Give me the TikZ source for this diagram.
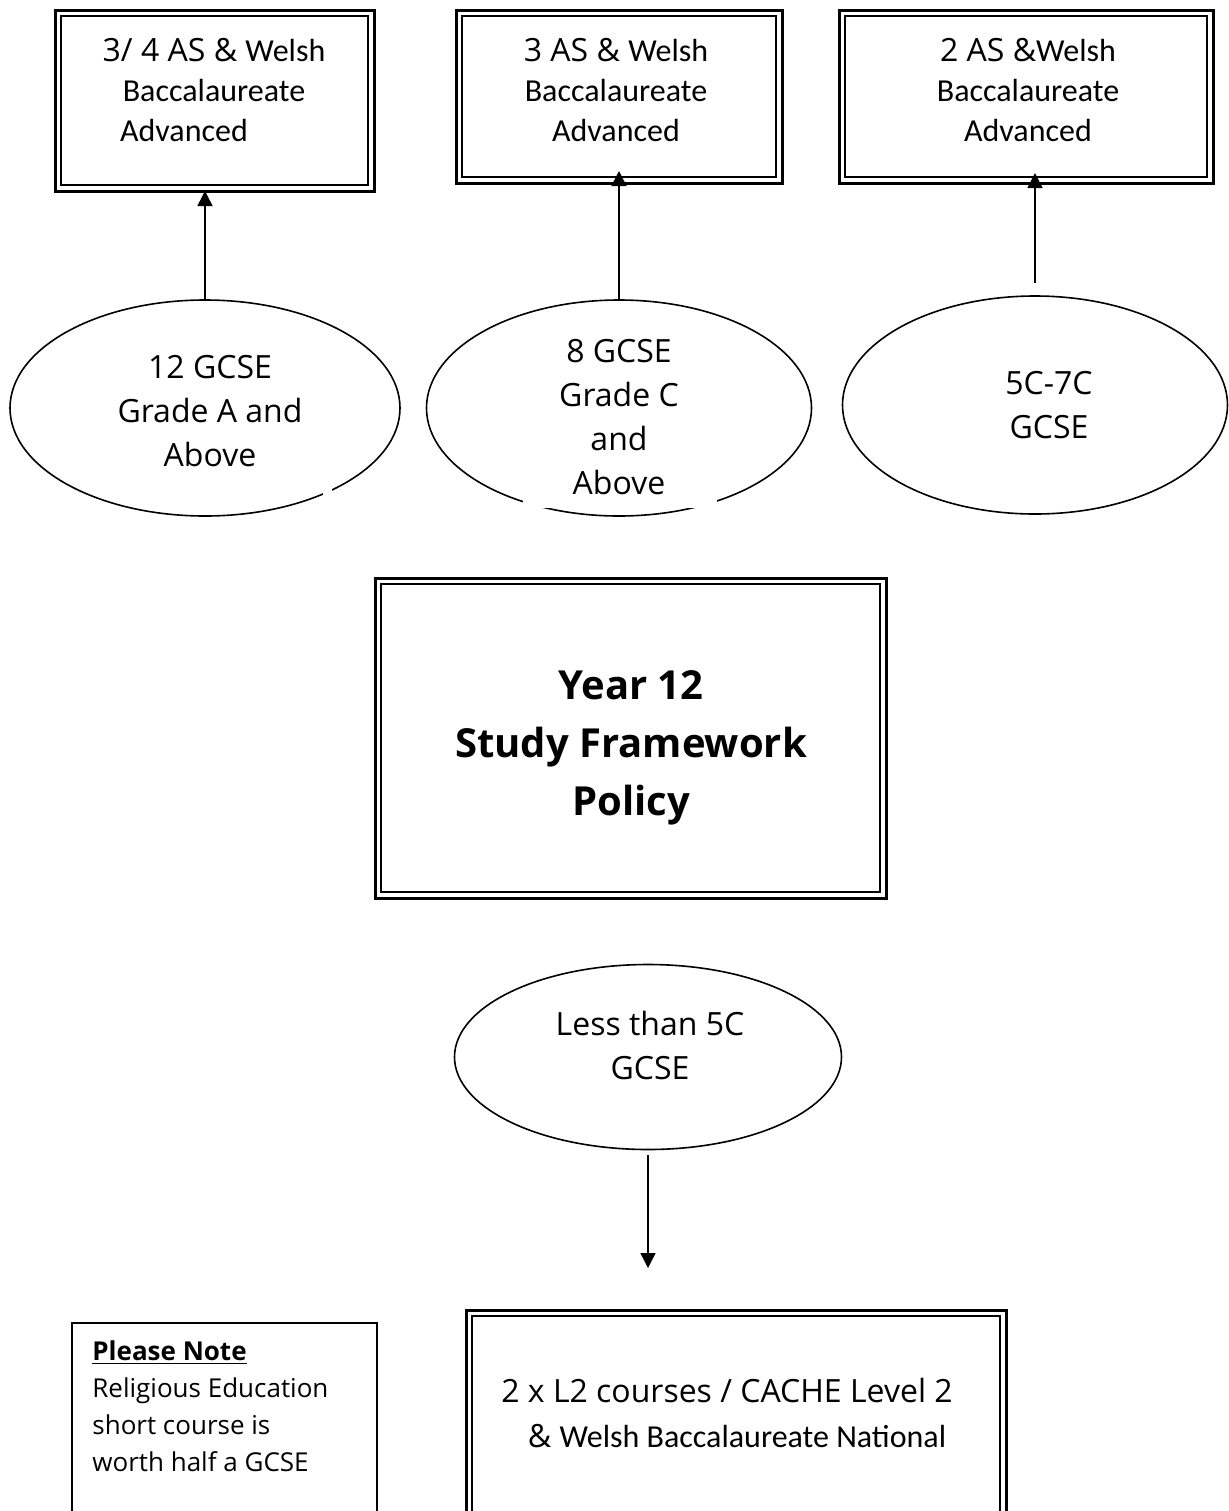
\documentclass[tikz,border=0pt]{standalone}
\usepackage{fontspec}
\setmainfont{Open Sans}
\newfontfamily\calib{Carlito}
\usetikzlibrary{shapes.geometric,arrows.meta}
\begin{document}
\begin{tikzpicture}[x=0.5pt,y=-0.5pt,
  dbox/.style={draw,line width=1.5pt,rectangle,inner sep=0pt,outer sep=0pt},
  nbox/.style={draw,line width=0.6pt,rectangle,inner sep=0pt,outer sep=0pt},
  ell/.style={draw,ellipse,line width=0.8pt,inner sep=0pt,outer sep=0pt},
  txt/.style={inner sep=0pt,align=center,font=\fontsize{16}{22}\selectfont},
  btxt/.style={inner sep=0pt,align=center,font=\fontsize{16}{20}\selectfont},
  link/.style={line width=0.8pt,-{Triangle[length=7.5pt,width=7.5pt]}}]
\useasboundingbox (0,0) rectangle (1229,1511);
\begin{scope}
\clip (0,0) rectangle (1229,1511);
% boxes
\node[dbox,minimum width=159.5pt,minimum height=90.5pt] (b1) at (214.5,100.5) {};
\node[dbox,minimum width=163pt,minimum height=86.5pt] (b2) at (619,96.5) {};
\node[dbox,minimum width=187pt,minimum height=86.5pt] (b3) at (1026,96.5) {};
\node[dbox,minimum width=255.5pt,minimum height=160pt] (mid) at (630.5,738) {};
\node[dbox,minimum width=270pt,minimum height=125pt] (bot) at (736,1435) {};
\node[nbox,minimum width=152.5pt,minimum height=118.5pt] (note) at (224.5,1441.5) {};
\foreach \n in {b1,b2,b3,mid,bot}
  \draw[line width=0.9pt] ([shift={(6,6)}]\n.north west) rectangle ([shift={(-6,-6)}]\n.south east);
% ellipses
\node[ell,minimum width=195pt,minimum height=108pt] (e1) at (205,408) {};
\node[ell,minimum width=192.5pt,minimum height=108pt] (e2) at (619,408) {};
\node[ell,minimum width=192.5pt,minimum height=109pt] (e3) at (1035,405) {};
\node[ell,minimum width=193.5pt,minimum height=92.5pt] (e4) at (648,1057) {};
% gaps left by text boxes
\fill[white] (323,470) rectangle (332,497);
\fill[white] (523,440) rectangle (717,508);
% texts
\node[btxt] (t1) at (214,90) {3/ 4 AS \& {\calib Welsh}\\{\calib Baccalaureate}\\{\calib Advanced\hspace*{30pt}}};
\node[btxt] (t2) at (616,90) {3 AS \& {\calib Welsh}\\{\calib Baccalaureate}\\{\calib Advanced}};
\node[btxt] (t3) at (1028,90) {2 AS \&{\calib Welsh}\\{\calib Baccalaureate}\\{\calib Advanced}};
\node[txt] (te1) at (210,411) {12 GCSE\\Grade A and\\Above};
\node[txt] (te2) at (619,417) {8 GCSE\\Grade C\\and\\Above};
\node[txt] (te3) at (1049,405) {5C-7C\\GCSE};
\node[txt] (te4) at (650,1045) {Less than 5C\\GCSE};
\node[inner sep=0pt,align=center,font=\bfseries\fontsize{20}{29}\selectfont] (title) at (631,748) {Year 12\\Study Framework\\Policy};
\node[txt] (bt1) at (727,1390) {2 x L2 courses / CACHE Level 2};
\node[txt] (bt2) at (737,1436) {\& {\calib Welsh Baccalaureate National}};
\node[inner sep=0pt,anchor=north west,align=left,font=\fontsize{13}{18.5}\selectfont] (nt) at (92,1340) {\textbf{\underline{Please Note}}\\Religious Education\\short course is\\worth half a GCSE};
% connectors
\draw[link] (e1.north) -- (e1.north |- b1.south);
\draw[link] (e2.north) -- ([yshift=6pt]e2.north |- b2.south);
\coordinate (a3s) at (1035,283);
\draw[link] (a3s) -- ([yshift=5pt]a3s |- b3.south);
\coordinate (a4s) at (648,1155);
\coordinate (a4e) at (648,1268);
\draw[link] (a4s) -- (a4e);
\end{scope}
\end{tikzpicture}
\end{document}
